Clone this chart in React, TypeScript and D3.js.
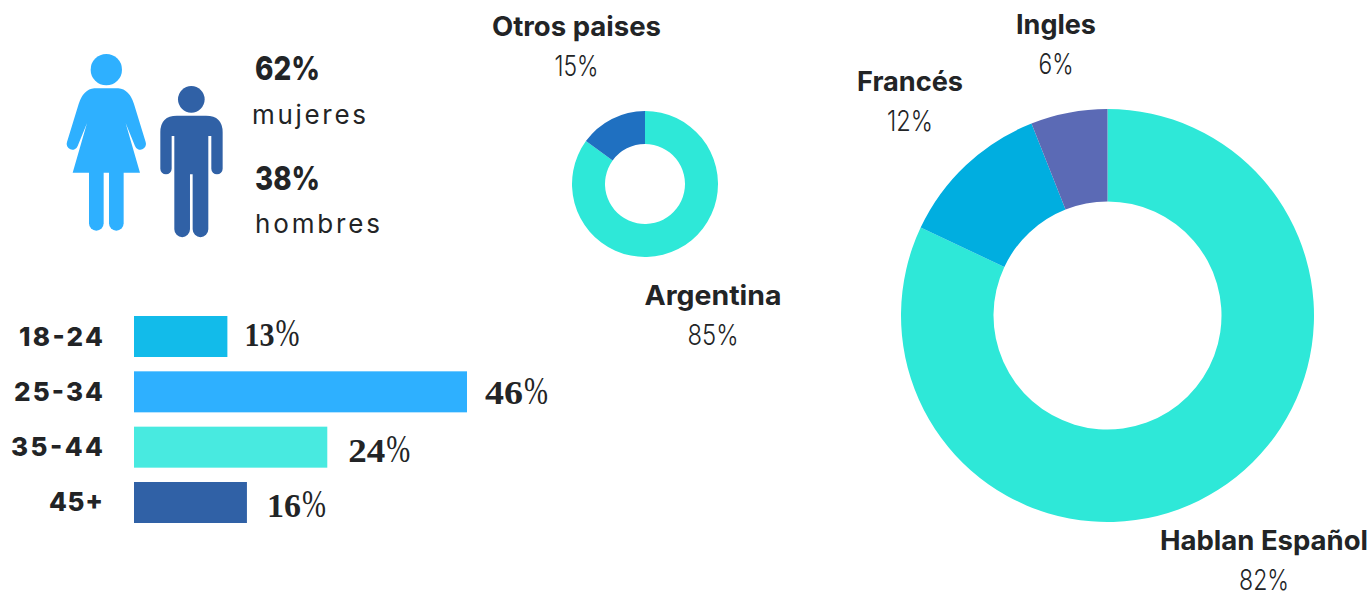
import React from "react";
import * as d3 from "d3";

const ageGroups = ["18-24", "25-34", "35-44", "45+"];
const ageBarValues = [12.9, 46, 26.7, 15.6];
const ageLabels = ["13", "46", "24", "16"];
const ageColors = ["#12BBEA", "#2EB0FF", "#48EAE0", "#3061A6"];

const countryNames = ["Argentina", "Otros paises"];
const countryValues = [85, 15];
const countryLabels = ["85%", "15%"];
const countryColors = ["#2EE8D8", "#1F70C1"];

const languageNames = ["Hablan Español", "Francés", "Ingles"];
const languageValues = [82, 12, 6];
const languageLabels = ["82%", "12%", "6%"];
const languageColors = ["#2EE8D8", "#00AEE0", "#5B6AB5"];

const W = 1372, H = 592;
const INK = "#222426";
const HEAD = "Inter, Lato, sans-serif";
const SERIF = "'Liberation Serif', serif";

const x = d3.scaleLinear().domain([0, 46]).range([134, 467]);
const y = d3.scaleBand<string>().domain(ageGroups).range([316, 523]).paddingInner(0.259);

const pie = d3.pie<number>().sort(null).value((d) => d);

const ageNameWidths = [84, 89, 92, 54];
const ageLabelLayout = [
  { gap: 17, dy: 9, w: 30 },
  { gap: 18, dy: 12, w: 38 },
  { gap: 21, dy: 15, w: 37 },
  { gap: 20, dy: 14.5, w: 34 },
];

function Donut({ cx, cy, r0, r1, values, colors }: any) {
  const arc = d3.arc<d3.PieArcDatum<number>>().innerRadius(r0).outerRadius(r1);
  return (
    <g transform={`translate(${cx},${cy})`}>
      {pie(values).map((a, i) => (
        <path key={i} d={arc(a) as string} fill={colors[i]} />
      ))}
    </g>
  );
}

function Label({ cx, y, name, pct, nameW, pctW }: any) {
  return (
    <g textAnchor="middle" fill={INK}>
      <text x={cx} y={y} fontFamily={HEAD} fontSize={27} fontWeight={700} textLength={nameW} lengthAdjust="spacingAndGlyphs">{name}</text>
      <text x={cx} y={y + 40} fontFamily={HEAD} fontSize={28} fontWeight={350} textLength={pctW} lengthAdjust="spacingAndGlyphs">{pct}</text>
    </g>
  );
}

export default function App() {
  return (
    <svg width={W} height={H} viewBox={`0 0 ${W} ${H}`} style={{ position: "absolute", left: 0, top: 0 }}>
      <rect width={W} height={H} fill="#fff" />

      <g transform="translate(50,40) scale(0.3333)">
        <g fill="#2EB0FF">
          <circle cx={169} cy={89} r={47} />
          <path d="M133 145 H205 Q238 148 252 192 L287 306 A17 17 0 0 1 255 318 L210 208 L215 208 L270 398 H68 L123 208 L128 208 L83 318 A17 17 0 0 1 51 306 L86 192 Q100 148 133 145 Z" />
          <path d="M117 390 H161 V550 a22 22 0 0 1 -44 0 Z" />
          <path d="M177 390 H221 V550 a22 22 0 0 1 -44 0 Z" />
        </g>
        <g fill="#3061A6">
          <circle cx={424} cy={178} r={40} />
          <path d="M331 277 Q331 227 381 227 H468 Q518 227 518 277 V386 a17 17 0 0 1 -34 0 V288 H475 V568 a23 23 0 0 1 -47 0 V403 H420 V568 a23 23 0 0 1 -47 0 V288 H365 V386 a17 17 0 0 1 -34 0 Z" />
        </g>
      </g>

      <g fill={INK} fontFamily={HEAD}>
        <text x={255} y={80} fontSize={33} fontWeight={800} textLength={65} lengthAdjust="spacingAndGlyphs">62%</text>
        <text x={252} y={124} fontSize={26} fontWeight={400} textLength={114} lengthAdjust="spacing">mujeres</text>
        <text x={255} y={190} fontSize={33} fontWeight={800} textLength={65} lengthAdjust="spacingAndGlyphs">38%</text>
        <text x={255} y={233} fontSize={26} fontWeight={400} textLength={125} lengthAdjust="spacing">hombres</text>
      </g>

      {ageGroups.map((g, i) => {
        const by = y(g) as number;
        const bh = y.bandwidth();
        const xEnd = x(ageBarValues[i]);
        const l = ageLabelLayout[i];
        const numX = xEnd + l.gap;
        return (
          <g key={g}>
            <rect x={x(0)} y={by} width={xEnd - x(0)} height={bh} fill={ageColors[i]} />
            <text x={103} y={by + bh / 2 + 9} textAnchor="end" fontFamily={HEAD} fontSize={26} fontWeight={800} fill={INK} textLength={ageNameWidths[i]} lengthAdjust="spacing">{g}</text>
            <text x={numX} y={by + bh / 2 + l.dy} fontFamily={SERIF} fontSize={33} fontWeight={700} fill={INK} textLength={l.w} lengthAdjust="spacingAndGlyphs">{ageLabels[i]}</text>
            <text x={numX + l.w + 1} y={by + bh / 2 + l.dy} fontFamily={SERIF} fontSize={39} fontWeight={400} fill={INK} textLength={24} lengthAdjust="spacingAndGlyphs">%</text>
          </g>
        );
      })}

      <Donut cx={645} cy={184} r0={40} r1={73} values={countryValues} colors={countryColors} />
      <Label cx={576.5} y={36} name={countryNames[1]} pct={countryLabels[1]} nameW={169} pctW={44} />
      <Label cx={713} y={305} name={countryNames[0]} pct={countryLabels[0]} nameW={137} pctW={51} />

      <Donut cx={1107.5} cy={315.5} r0={114} r1={206.5} values={languageValues} colors={languageColors} />
      <Label cx={1264} y={550} name={languageNames[0]} pct={languageLabels[0]} nameW={208} pctW={50} />
      <Label cx={910} y={91} name={languageNames[1]} pct={languageLabels[1]} nameW={106} pctW={46} />
      <Label cx={1056} y={34} name={languageNames[2]} pct={languageLabels[2]} nameW={80} pctW={35} />
    </svg>
  );
}
